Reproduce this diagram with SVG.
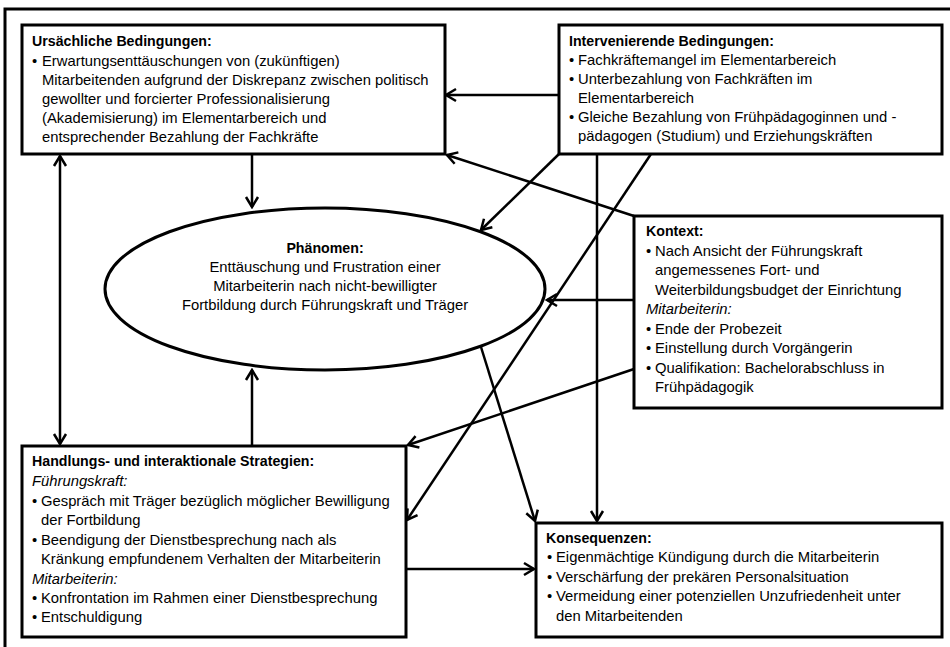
<svg xmlns="http://www.w3.org/2000/svg" width="950" height="647" viewBox="0 0 950 647">
  <defs>
    <marker id="arr" viewBox="-12 -8 14 16" refX="0" refY="0" markerWidth="14" markerHeight="16" markerUnits="userSpaceOnUse" orient="auto-start-reverse">
      <path d="M-10,-6 L0,0 L-10,6" fill="none" stroke="#000" stroke-width="2.5" stroke-linejoin="miter"/>
    </marker>
  </defs>
  <style>
    .box { fill: #fff; stroke: #000; stroke-width: 3; }
    .frame { fill: none; stroke: #000; stroke-width: 3; }
    .conn line { stroke: #000; stroke-width: 2.5; marker-end: url(#arr); }
    text { font-family: "Liberation Sans", Arial, sans-serif; font-size: 14.8px; fill: #000; }
    .t { font-weight: bold; font-size: 14.2px; }
    .i { font-style: italic; }
    .c { text-anchor: middle; }
  </style>

  <rect width="950" height="647" fill="#fff"/>
  <!-- outer frame (runs past the right and bottom edges) -->
  <rect class="frame" x="5" y="9" width="960" height="660"/>

  <!-- connectors -->
  <g id="connectors" class="conn">
    <line x1="559" y1="95" x2="446" y2="95"/>
    <line x1="634" y1="216" x2="447" y2="155"/>
    <line x1="252" y1="154" x2="252" y2="207"/>
    <line x1="60" y1="156" x2="60" y2="444" style="marker-start:url(#arr)"/>
    <line x1="252" y1="445" x2="252" y2="370"/>
    <line x1="559" y1="154" x2="481" y2="230"/>
    <line x1="597" y1="154" x2="597" y2="521"/>
    <line x1="651" y1="154" x2="407" y2="520"/>
    <line x1="634" y1="300" x2="547" y2="300"/>
    <line x1="634" y1="369" x2="408" y2="445"/>
    <line x1="481" y1="347" x2="535" y2="521"/>
    <line x1="406" y1="569" x2="534" y2="569"/>
  </g>

  <g id="ursaechliche">
    <rect class="box" x="22" y="25" width="423" height="129"/>
    <text class="t" x="32" y="46">Ursächliche Bedingungen:</text>
    <text x="32" y="66">•</text>
    <text x="42" y="66">Erwartungsenttäuschungen von (zukünftigen)</text>
    <text x="42" y="85">Mitarbeitenden aufgrund der Diskrepanz zwischen politisch</text>
    <text x="42" y="104">gewollter und forcierter Professionalisierung</text>
    <text x="42" y="123">(Akademisierung) im Elementarbereich und</text>
    <text x="42" y="142">entsprechender Bezahlung der Fachkräfte</text>
  </g>

  <g id="intervenierende">
    <rect class="box" x="559" y="25" width="383" height="129"/>
    <text class="t" x="569" y="46">Intervenierende Bedingungen:</text>
    <text x="569" y="65">•</text>
    <text x="578" y="65">Fachkräftemangel im Elementarbereich</text>
    <text x="569" y="84">•</text>
    <text x="578" y="84">Unterbezahlung von Fachkräften im</text>
    <text x="578" y="103">Elementarbereich</text>
    <text x="569" y="122">•</text>
    <text x="578" y="122">Gleiche Bezahlung von Frühpädagoginnen und -</text>
    <text x="578" y="141">pädagogen (Studium) und Erziehungskräften</text>
  </g>

  <g id="phaenomen">
    <ellipse class="box" cx="325" cy="289" rx="220" ry="81"/>
    <text class="t c" x="325" y="253">Phänomen:</text>
    <text class="c" x="325" y="272">Enttäuschung und Frustration einer</text>
    <text class="c" x="325" y="291">Mitarbeiterin nach nicht-bewilligter</text>
    <text class="c" x="325" y="310">Fortbildung durch Führungskraft und Träger</text>
  </g>

  <g id="kontext">
    <rect class="box" x="634" y="216" width="308" height="192"/>
    <text class="t" x="646" y="236">Kontext:</text>
    <text x="646" y="256">•</text>
    <text x="655" y="256">Nach Ansicht der Führungskraft</text>
    <text x="655" y="275">angemessenes Fort- und</text>
    <text x="655" y="294.5">Weiterbildungsbudget der Einrichtung</text>
    <text class="i" x="646" y="314">Mitarbeiterin:</text>
    <text x="646" y="333.5">•</text>
    <text x="655" y="333.5">Ende der Probezeit</text>
    <text x="646" y="353">•</text>
    <text x="655" y="353">Einstellung durch Vorgängerin</text>
    <text x="646" y="372.5">•</text>
    <text x="655" y="372.5">Qualifikation: Bachelorabschluss in</text>
    <text x="655" y="392">Frühpädagogik</text>
  </g>

  <g id="strategien">
    <rect class="box" x="22" y="446" width="384" height="191"/>
    <text class="t" x="32" y="466">Handlungs- und interaktionale Strategien:</text>
    <text class="i" x="32" y="486">Führungskraft:</text>
    <text x="32" y="505.5">•</text>
    <text x="41" y="505.5">Gespräch mit Träger bezüglich möglicher Bewilligung</text>
    <text x="41" y="525">der Fortbildung</text>
    <text x="32" y="544.5">•</text>
    <text x="41" y="544.5">Beendigung der Dienstbesprechung nach als</text>
    <text x="41" y="564">Kränkung empfundenem Verhalten der Mitarbeiterin</text>
    <text class="i" x="32" y="583.5">Mitarbeiterin:</text>
    <text x="32" y="603">•</text>
    <text x="41" y="603">Konfrontation im Rahmen einer Dienstbesprechung</text>
    <text x="32" y="622">•</text>
    <text x="41" y="622">Entschuldigung</text>
  </g>

  <g id="konsequenzen">
    <rect class="box" x="536" y="523" width="406" height="114"/>
    <text class="t" x="546" y="543">Konsequenzen:</text>
    <text x="547" y="562">•</text>
    <text x="556" y="562">Eigenmächtige Kündigung durch die Mitarbeiterin</text>
    <text x="547" y="581.5">•</text>
    <text x="556" y="581.5">Verschärfung der prekären Personalsituation</text>
    <text x="547" y="601">•</text>
    <text x="556" y="601">Vermeidung einer potenziellen Unzufriedenheit unter</text>
    <text x="556" y="620.5">den Mitarbeitenden</text>
  </g>
</svg>
